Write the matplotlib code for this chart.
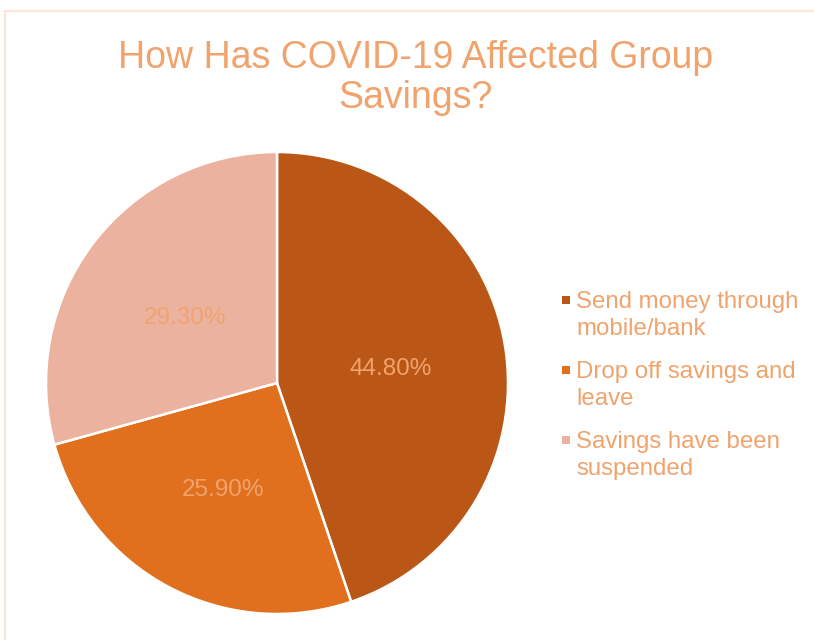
import matplotlib
matplotlib.use("Agg")
import matplotlib.pyplot as plt
from matplotlib.patches import Rectangle

plt.rcParams['font.family'] = ['Liberation Sans', 'DejaVu Sans']

title = "How Has COVID-19 Affected Group\nSavings?"
categories = ["Send money through\nmobile/bank",
              "Drop off savings and\nleave",
              "Savings have been\nsuspended"]
values = [44.8, 25.9, 29.3]
colors = ["#BA5716", "#E1701E", "#ECB2A0"]
text_color = "#F0A36D"

W, H = 814, 640
fig = plt.figure(figsize=(W / 100, H / 100), dpi=100)

# faint chart border
fig.patches.append(Rectangle((5 / W, -0.1), 1.2, (H - 11) / H + 0.1,
                             transform=fig.transFigure, fill=False,
                             edgecolor="#FBE5D6", linewidth=1.5))

cx, cy, r = 277, 383, 231
ax = fig.add_axes([(cx - r) / W, (H - cy - r) / H, 2 * r / W, 2 * r / H])
wedges, texts, autotexts = ax.pie(
    values, colors=colors, startangle=90, counterclock=False,
    autopct=lambda p: f"{p:.2f}%", pctdistance=0.5,
    wedgeprops=dict(edgecolor="white", linewidth=1.8),
    textprops=dict(color=text_color, fontsize=17.5))
for t in autotexts:
    x, y = t.get_position()
    t.set_position((x, y - 4.5 / r))
ax.set_aspect("equal")
ax.set_xlim(-1, 1)
ax.set_ylim(-1, 1)

fig.text(416 / W, 1 - 40 / H, title, ha="center", va="top",
         fontsize=27, color=text_color, linespacing=1.16)

# legend
y0, step = 300, 70
for i, (lab, col) in enumerate(zip(categories, colors)):
    yc = y0 + i * step
    fig.patches.append(Rectangle((562 / W, 1 - (yc + 4) / H), 8 / W, 8 / H,
                                 transform=fig.transFigure, facecolor=col,
                                 edgecolor="none"))
    fig.text(576 / W, 1 - (yc - 9) / H, lab, ha="left", va="top",
             fontsize=17.3, color=text_color, linespacing=1.3)

fig.savefig("out.png", dpi=100)
